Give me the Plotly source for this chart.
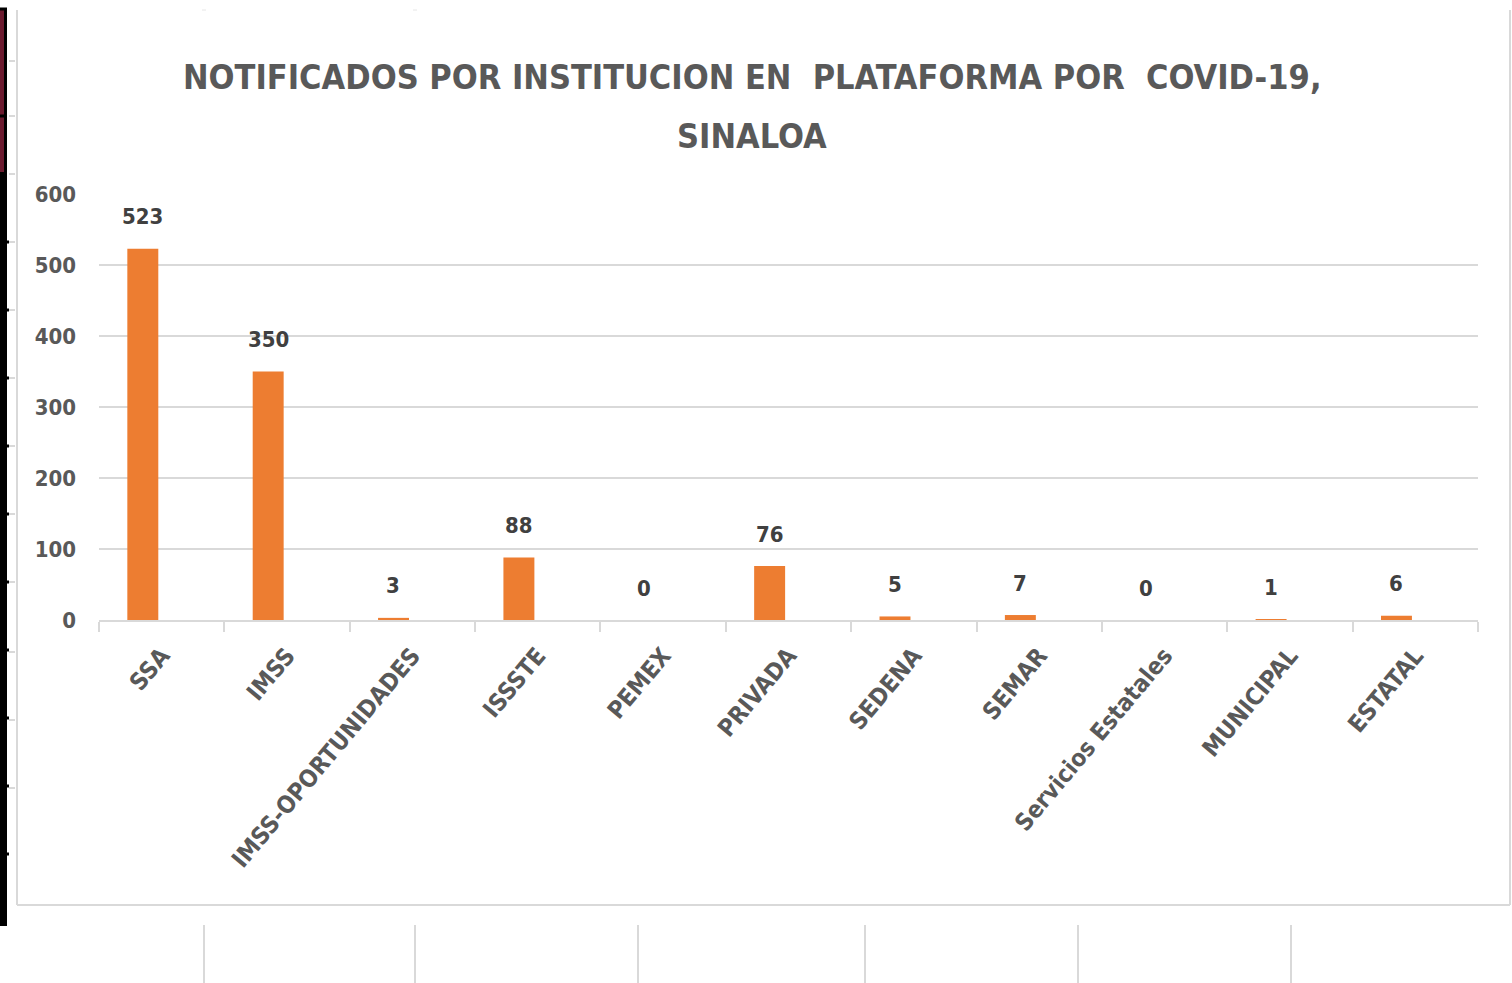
import plotly.graph_objects as go

categories = ["SSA", "IMSS", "IMSS-OPORTUNIDADES", "ISSSTE", "PEMEX", "PRIVADA",
              "SEDENA", "SEMAR", "Servicios Estatales", "MUNICIPAL", "ESTATAL"]
values = [523, 350, 3, 88, 0, 76, 5, 7, 0, 1, 6]
y_ticks = [0, 100, 200, 300, 400, 500, 600]
title_line1 = "NOTIFICADOS POR INSTITUCION EN  PLATAFORMA POR  COVID-19,"
title_line2 = "SINALOA"

FONT = "DejaVu Sans Condensed, Liberation Sans Narrow, sans-serif"
W, H = 1512, 983
L, R, T, B = 99, 34, 194, 363
PW, PH = W - L - R, H - T - B


def px(x):
    return (x - L) / PW


def py(y):
    return (H - B - y) / PH


fig = go.Figure()
fig.add_trace(go.Bar(
    x=categories, y=values, width=0.247, offset=-0.274,
    marker=dict(color="#ED7D31", line=dict(width=0)),
    hoverinfo="x+y",
))

annotations = []
for c, v in zip(categories, values):
    annotations.append(dict(
        x=c, y=v, xref="x", yref="y", text=f"<b>{v}</b>", showarrow=False,
        yanchor="middle", yshift=32, xshift=-19,
        font=dict(family=FONT, size=22, color="#404040"),
    ))
for line, yc in [(title_line1, 77), (title_line2, 136)]:
    annotations.append(dict(
        x=px(752), y=py(yc), xref="paper", yref="paper", text=f"<b>{line}</b>",
        showarrow=False, xanchor="center", yanchor="middle",
        font=dict(family=FONT, size=34, color="#595959"),
    ))

shapes = []
gray = "#d9d9d9"
# outer chart frame (left, bottom, right)
shapes.append(dict(type="line", xref="paper", yref="paper", x0=px(17), x1=px(17), y0=py(10), y1=py(905),
                   line=dict(color=gray, width=2)))
shapes.append(dict(type="line", xref="paper", yref="paper", x0=px(17), x1=px(1510), y0=py(905), y1=py(905),
                   line=dict(color=gray, width=2)))
shapes.append(dict(type="line", xref="paper", yref="paper", x0=px(1510), x1=px(1510), y0=py(10), y1=py(905),
                   line=dict(color=gray, width=2)))
# lower vertical separators
for xv in [204, 415, 638, 865, 1078, 1291]:
    shapes.append(dict(type="line", xref="paper", yref="paper", x0=px(xv), x1=px(xv), y0=py(925), y1=py(983),
                       line=dict(color=gray, width=2)))
# faint top marks
for xv in [204, 415]:
    shapes.append(dict(type="line", xref="paper", yref="paper", x0=px(xv - 2), x1=px(xv + 2), y0=py(10), y1=py(10),
                       line=dict(color="#e6e6e6", width=1)))
# left black bracket: dark red top section, solid black lower section
shapes.append(dict(type="rect", xref="paper", yref="paper", x0=px(0), x1=px(4), y0=py(10), y1=py(172),
                   fillcolor="#6b1a2e", line=dict(width=0)))
shapes.append(dict(type="rect", xref="paper", yref="paper", x0=px(4), x1=px(7), y0=py(8), y1=py(172),
                   fillcolor="black", line=dict(width=0)))
shapes.append(dict(type="rect", xref="paper", yref="paper", x0=px(0), x1=px(7), y0=py(172), y1=py(926),
                   fillcolor="black", line=dict(width=0)))
for yv in [9, 116, 922]:
    shapes.append(dict(type="line", xref="paper", yref="paper", x0=px(0), x1=px(7), y0=py(yv), y1=py(yv),
                       line=dict(color="black", width=3)))
for yv in [242, 310, 378, 446, 514, 582, 650, 718, 786, 854]:
    shapes.append(dict(type="line", xref="paper", yref="paper", x0=px(7), x1=px(9), y0=py(yv), y1=py(yv),
                       line=dict(color="black", width=3)))
for yv in [61, 116, 174, 242, 310, 378, 446, 514, 582, 652, 720, 788]:
    shapes.append(dict(type="line", xref="paper", yref="paper", x0=px(9), x1=px(15), y0=py(yv), y1=py(yv),
                       line=dict(color=gray, width=2)))

fig.update_layout(
    width=W, height=H,
    margin=dict(l=L, r=R, t=T, b=B, autoexpand=False),
    paper_bgcolor="white", plot_bgcolor="white",
    showlegend=False,
    annotations=annotations,
    shapes=shapes,
    xaxis=dict(
        type="category", range=[-0.5, len(categories) - 0.5],
        showline=True, linecolor=gray, linewidth=2,
        ticks="outside", tickson="boundaries", ticklen=10, tickcolor=gray, tickwidth=2,
        tickangle=-50, showgrid=False, ticklabelstandoff=10,
        tickfont=dict(family=FONT, size=24, color="#595959"),
        ticktext=[f"<b>{c}</b>" for c in categories], tickvals=categories,
    ),
    yaxis=dict(
        range=[0, 600], tickvals=y_ticks, ticktext=[f"<b>{t}</b>" for t in y_ticks],
        showgrid=True, gridcolor=gray, gridwidth=2, zeroline=False, showline=False,
        ticklabelstandoff=22,
        tickfont=dict(family=FONT, size=22, color="#595959"),
    ),
)

fig.write_html("out.html", config={"displayModeBar": False},
               post_script="document.body.style.margin='0';document.body.style.overflow='hidden';")
